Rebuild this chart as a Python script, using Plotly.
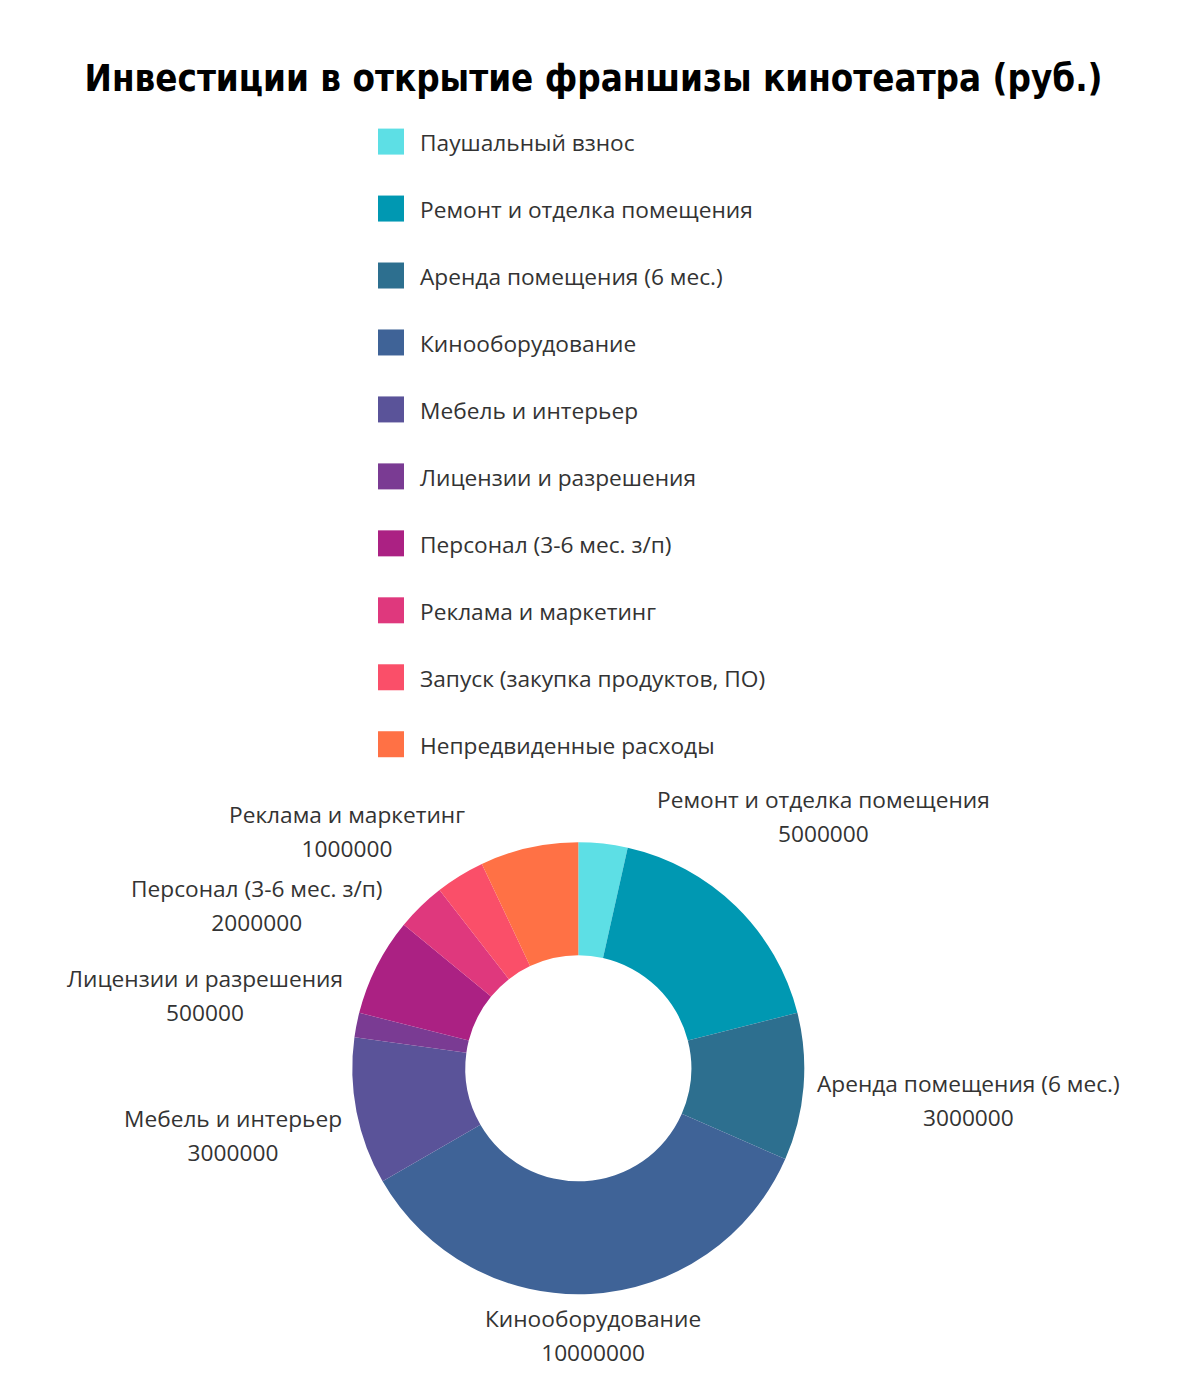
import math
import plotly.graph_objects as go

title = "Инвестиции в открытие франшизы кинотеатра (руб.)"
categories = [
    "Паушальный взнос",
    "Ремонт и отделка помещения",
    "Аренда помещения (6 мес.)",
    "Кинооборудование",
    "Мебель и интерьер",
    "Лицензии и разрешения",
    "Персонал (3-6 мес. з/п)",
    "Реклама и маркетинг",
    "Запуск (закупка продуктов, ПО)",
    "Непредвиденные расходы",
]
values = [1000000, 5000000, 3000000, 10000000, 3000000, 500000, 2000000, 1000000, 1000000, 2000000]
show_label = [False, True, True, True, True, True, True, True, False, False]
colors = ["#5ddfe5", "#0098b2", "#2d6f8f", "#3f6397", "#5a5399", "#7a3b93", "#ab2183",
          "#df387d", "#fa4f69", "#ff7145"]

# ---- layout / style settings ----
W, H = 1180, 1393
CX, CY, R = 578.3, 1068.3, 226.0          # donut centre and outer radius (px)
label_dist = [0, 351, 392, 268, 352, 380, 361, 331, 0, 0]   # label distance from centre (px)
TXT = 22.7
LEG_FONT = 22.7

legend_labels = [f'<span style="font-size:{LEG_FONT}px">{c}</span><br> ' for c in categories]

fig = go.Figure(go.Pie(
    labels=legend_labels,
    values=values,
    textinfo="none",
    hole=0.5,
    sort=False,
    direction="clockwise",
    rotation=0,
    marker=dict(colors=colors, line=dict(width=0)),
    domain=dict(x=[(CX - R) / W, (CX + R) / W], y=[(H - CY - R) / H, (H - CY + R) / H]),
    showlegend=True,
    hoverinfo="label+value+percent",
))

# outside labels along each slice's mid angle (angles derived from the values)
total = sum(values)
cum = 0
for cat, v, show, d in zip(categories, values, show_label, label_dist):
    mid = (cum + v / 2) / total * 2 * math.pi
    cum += v
    if not show:
        continue
    px = CX + d * math.sin(mid)
    py = CY - d * math.cos(mid)
    fig.add_annotation(
        x=px / W, y=1 - py / H, xref="paper", yref="paper",
        xanchor="center", yanchor="middle", showarrow=False, align="center",
        text=f'<span style="font-size:{TXT}px">{cat}</span><br><span style="font-size:{TXT}px">{v}</span>',
        font=dict(family="Open Sans", size=26, color="#333333"),
    )

fig.update_layout(
    width=W, height=H,
    margin=dict(l=0, r=0, t=0, b=0),
    paper_bgcolor="white", plot_bgcolor="white",
    font=dict(family="Open Sans", color="#333333"),
    title=dict(text=title, x=0.503, xanchor="center", y=0.944, yanchor="middle",
               font=dict(family="DejaVu Sans Condensed", size=36.4, color="#000000", weight="bold")),
    legend=dict(x=0.3068, xanchor="left", y=0.9145, yanchor="top",
                font=dict(family="Open Sans", size=24.6, color="#333333"),
                itemwidth=48, valign="top", bgcolor="rgba(0,0,0,0)"),
)

post = """
var s = 26/12;
document.querySelectorAll('path.legendpie').forEach(function(p){
  var t = p.getAttribute('transform') || '';
  p.setAttribute('transform', t + ' scale(' + s + ')');
});
"""
fig.write_html("out.html", post_script=post)
